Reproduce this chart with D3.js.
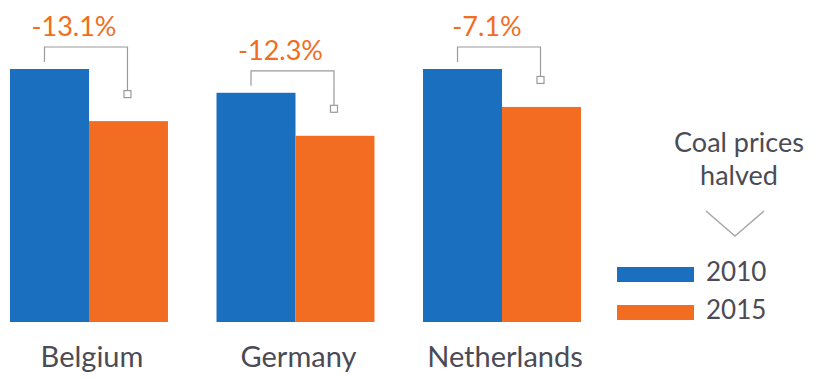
<!DOCTYPE html>
<html>
<head>
<meta charset="utf-8">
<script src="https://cdn.jsdelivr.net/npm/d3@7/dist/d3.min.js"></script>
<style>
  html, body { margin: 0; padding: 0; background: #ffffff; }
  svg { display: block; }
  text { font-family: Lato, "Open Sans", sans-serif; }
</style>
</head>
<body>
<svg id="chart" width="813" height="379"></svg>
<script>
// Electricity price index per country, 2010 vs 2015
const countries = ["Belgium", "Germany", "Netherlands"];
const years = ["2010", "2015"];
const values2010 = [100, 90.6, 100];
const values2015 = [79.4, 73.6, 85.0];
const changeLabels = ["-13.1%", "-12.3%", "-7.1%"];
const noteLines = ["Coal prices", "halved"];

const colors = { "2010": "#1b6fbf", "2015": "#f26d21" };
const textColor = "#4b4b55";
const bracketColor = "#9a9a9a";

const svg = d3.select("#chart");

const x0 = d3.scaleBand().domain(countries).range([10, 581]).paddingInner(0.235).paddingOuter(0);
const x1 = d3.scaleBand().domain(years).range([0, x0.bandwidth()]).padding(0);
const y = d3.scaleLinear().domain([0, 100]).range([322, 69]);

const rows = countries.map((c, i) => ({
  country: c,
  label: changeLabels[i],
  bars: [
    { year: "2010", value: values2010[i] },
    { year: "2015", value: values2015[i] }
  ]
}));

const groups = svg.selectAll("g.country")
  .data(rows)
  .join("g")
  .attr("class", "country")
  .attr("transform", d => `translate(${x0(d.country)},0)`);

groups.selectAll("rect")
  .data(d => d.bars)
  .join("rect")
  .attr("x", b => x1(b.year))
  .attr("y", b => y(b.value))
  .attr("width", x1.bandwidth())
  .attr("height", b => y(0) - y(b.value))
  .attr("fill", b => colors[b.year]);

// Category labels under each pair of bars
groups.append("text")
  .attr("x", x0.bandwidth() / 2 + 3)
  .attr("y", 367)
  .attr("text-anchor", "middle")
  .attr("font-size", 29)
  .attr("fill", textColor)
  .text(d => d.country);

// Change brackets linking the 2010 bar to the 2015 bar
groups.each(function (d) {
  const g = d3.select(this);
  const top10 = y(d.bars[0].value);
  const top15 = y(d.bars[1].value);
  const xl = x1("2010") + x1.bandwidth() / 2 - 5;
  const xr = x1("2015") + x1.bandwidth() / 2 - 1;
  const yTop = top10 - 22;
  const yLeft = top10 - 7;
  const ySq = top15 - 27;
  const sq = 7;

  g.append("path")
    .attr("d", `M${xl},${yLeft}V${yTop}H${xr}V${ySq - sq / 2}`)
    .attr("fill", "none")
    .attr("stroke", bracketColor)
    .attr("stroke-width", 1.2);

  g.append("rect")
    .attr("x", xr - sq / 2)
    .attr("y", ySq - sq / 2)
    .attr("width", sq)
    .attr("height", sq)
    .attr("fill", "#ffffff")
    .attr("stroke", bracketColor)
    .attr("stroke-width", 1.2);

  g.append("text")
    .attr("x", (xl + xr) / 2 - 12)
    .attr("y", yTop - 11)
    .attr("text-anchor", "middle")
    .attr("font-size", 27)
    .attr("fill", colors["2015"])
    .text(d.label);
});

// Side note with chevron
const note = svg.append("g");
note.selectAll("text")
  .data(noteLines)
  .join("text")
  .attr("x", 739)
  .attr("y", (d, i) => 152 + i * 33)
  .attr("text-anchor", "middle")
  .attr("font-size", 27)
  .attr("fill", textColor)
  .text(d => d);

note.append("path")
  .attr("d", "M706,211L735,236L764,211")
  .attr("fill", "none")
  .attr("stroke", "#a8a8a8")
  .attr("stroke-width", 1.5);

// Legend
const legend = svg.append("g");
const ly = d3.scalePoint().domain(years).range([274, 312]);
legend.selectAll("rect")
  .data(years)
  .join("rect")
  .attr("x", 617)
  .attr("y", d => ly(d) - 7)
  .attr("width", 77)
  .attr("height", 15)
  .attr("fill", d => colors[d]);
legend.selectAll("text")
  .data(years)
  .join("text")
  .attr("x", 706)
  .attr("y", d => ly(d) + 7)
  .attr("font-size", 26)
  .attr("fill", textColor)
  .text(d => d);
</script>
</body>
</html>
